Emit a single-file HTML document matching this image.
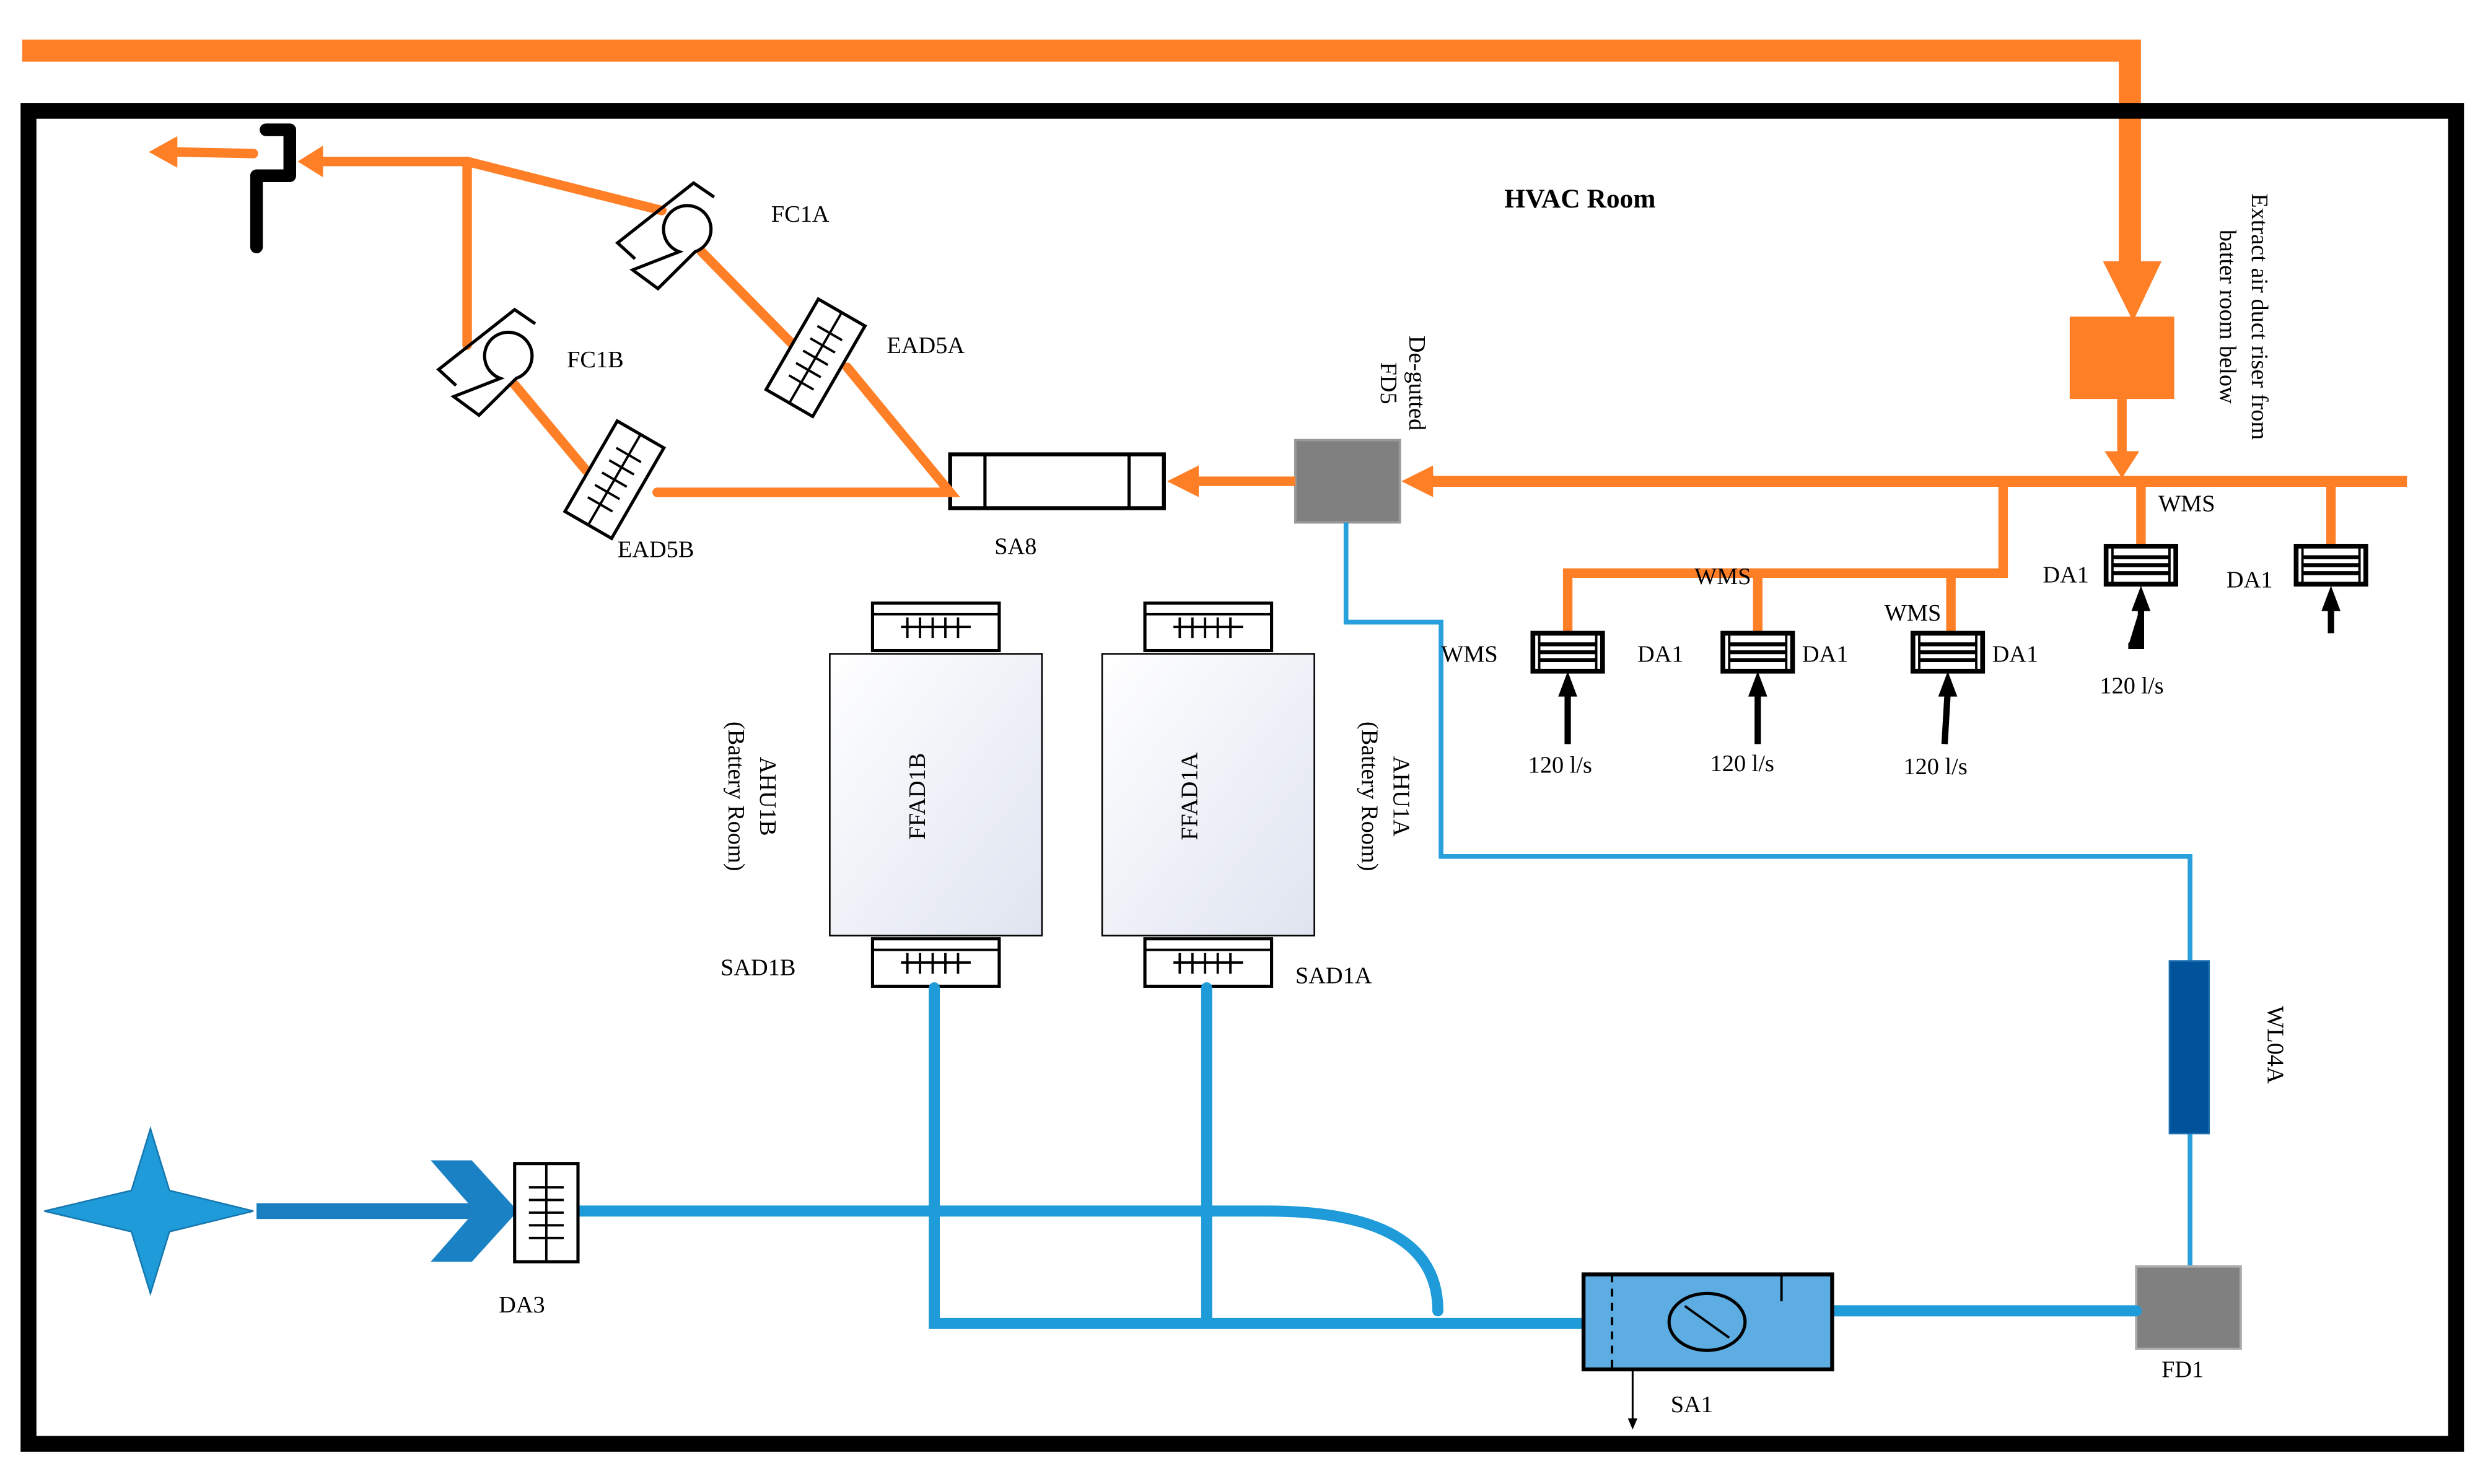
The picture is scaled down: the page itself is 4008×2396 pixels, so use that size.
<!DOCTYPE html>
<html><head><meta charset="utf-8"><style>html,body{margin:0;padding:0;background:#fff}svg{display:block}text{font-family:"Liberation Serif",serif;fill:#000}</style></head><body>
<svg width="4008" height="2396" viewBox="0 0 1568 937.4" preserveAspectRatio="none" xmlns="http://www.w3.org/2000/svg">
<defs>
<linearGradient id="g" x1="0" y1="0" x2="1" y2="1"><stop offset="0" stop-color="#fff"/><stop offset="1" stop-color="#dfe4f0"/></linearGradient>
<g id="da1"><rect x="-22" y="-12" width="44" height="24" fill="#fff" stroke="#000" stroke-width="3"/><line x1="-18" y1="-12" x2="-18" y2="12" stroke="#000" stroke-width="1.5"/><line x1="18" y1="-12" x2="18" y2="12" stroke="#000" stroke-width="1.5"/><path d="M-18 -5H18M-18 0H18M-18 5H18" stroke="#000" stroke-width="2.5"/></g>
<g id="grille"><rect x="-40" y="-15" width="80" height="30" fill="#fff" stroke="#000" stroke-width="2"/><line x1="-40" y1="-8" x2="40" y2="-8" stroke="#000" stroke-width="1.5"/><line x1="-22" y1="0" x2="22" y2="0" stroke="#000" stroke-width="1.5"/><path d="M-18 -6V7M-10 -6V7M-2 -6V7M6 -6V7M14 -6V7" stroke="#000" stroke-width="1.5"/></g>
<g id="ead"><rect x="-17" y="-33" width="34" height="66" fill="#fff" stroke="#000" stroke-width="2"/><line x1="0" y1="-33" x2="0" y2="33" stroke="#000" stroke-width="1.5"/><path d="M-9 -18H9M-9 -9H9M-9 0H9M-9 9H9M-9 18H9" stroke="#000" stroke-width="1.5"/></g>
<g id="fan" fill="none" stroke="#000" stroke-width="2"><path d="M18 -21.5L5 -30.4L-43 7.4L-32 17.5"/><path d="M-4 13A15 15 0 1 1 6 13L-17.5 36.3L-33.5 24.5L-4 13Z" fill="#fff"/></g>
</defs>
<path d="M14 32H1345V170" fill="none" stroke="#ff7f27" stroke-width="14"/>
<polygon points="1328,165 1365,165 1347,203" fill="#ff7f27"/>
<rect x="18" y="70" width="1533" height="842" fill="none" stroke="#000" stroke-width="10"/>
<rect x="1307" y="200" width="66" height="52" fill="#ff7f27"/>
<line x1="1340" y1="252" x2="1340" y2="288" stroke="#ff7f27" stroke-width="6"/>
<polygon points="1329,285 1351,285 1340,302" fill="#ff7f27"/>
<line x1="1520" y1="304" x2="900" y2="304" stroke="#ff7f27" stroke-width="7"/>
<polygon points="885,304 905,294 905,314" fill="#ff7f27"/>
<rect x="818" y="278" width="66" height="52" fill="#808080" stroke="#999" stroke-width="1.5"/>
<line x1="818" y1="304" x2="752" y2="304" stroke="#ff7f27" stroke-width="6"/>
<polygon points="737,304 757,294 757,314" fill="#ff7f27"/>
<rect x="600" y="287" width="135" height="34" fill="#fff" stroke="#000" stroke-width="2.5"/>
<line x1="622" y1="287" x2="622" y2="321" stroke="#000" stroke-width="2"/><line x1="713" y1="287" x2="713" y2="321" stroke="#000" stroke-width="2"/>
<g stroke="#ff7f27" stroke-width="6" fill="none" stroke-linecap="round">
<path d="M415 311H600L535 232"/><path d="M500 217L443 159"/><path d="M418 133L295 102H196"/><path d="M295 102V218"/><path d="M325 243L370 297"/><path d="M160 97L112 96"/>
<path d="M1265 304V362H990V400"/><path d="M1110 362V400"/><path d="M1232 362V400"/><path d="M1352 304V345"/><path d="M1472 304V345"/>
</g>
<polygon points="188,102 204,92 204,112" fill="#ff7f27"/>
<polygon points="94,96 112,86 112,106" fill="#ff7f27"/>
<path d="M162 156V111H183V82H168" fill="none" stroke="#000" stroke-width="8" stroke-linecap="round" stroke-linejoin="round"/>
<use href="#fan" transform="translate(433,146)"/>
<use href="#fan" transform="translate(320,226)"/>
<use href="#ead" transform="translate(515,226) rotate(30)"/>
<use href="#ead" transform="translate(388,303) rotate(30)"/>
<use href="#da1" transform="translate(990,412)"/><use href="#da1" transform="translate(1110,412)"/><use href="#da1" transform="translate(1230,412)"/><use href="#da1" transform="translate(1352,357)"/><use href="#da1" transform="translate(1472,357)"/>
<g stroke="#000" stroke-width="4"><path d="M990 470V436"/><path d="M1110 470V436"/><path d="M1228 470L1230 436"/><path d="M1344 408H1352V382"/><path d="M1472 400V382"/></g>
<g fill="#000"><polygon points="984,440 996,440 990,424"/><polygon points="1104,440 1116,440 1110,424"/><polygon points="1224,440 1236,440 1230,424"/><polygon points="1346,386 1358,386 1352,370"/><polygon points="1466,386 1478,386 1472,370"/></g>
<path d="M850 330V393H910V541H1383V607M1383 716V800" fill="none" stroke="#29a0dc" stroke-width="3"/>
<rect x="1370" y="607" width="25" height="109" fill="#00529b" stroke="#1a6fb0"/>
<rect x="1349" y="800" width="66" height="52" fill="#808080" stroke="#aaa" stroke-width="1.5"/>
<rect x="524" y="413" width="134" height="178" fill="url(#g)" stroke="#000" stroke-width="1"/>
<rect x="696" y="413" width="134" height="178" fill="url(#g)" stroke="#000" stroke-width="1"/>
<use href="#grille" transform="translate(591,396)"/><use href="#grille" transform="translate(763,396)"/>
<use href="#grille" transform="translate(591,608)"/><use href="#grille" transform="translate(763,608)"/>
<g stroke="#1e9bd8" stroke-width="7" fill="none" stroke-linecap="round"><path d="M590 624V836H1000"/><path d="M762 624V836"/><path d="M365 765H800Q908 765 908 828"/><path d="M1157 828H1349"/></g>
<path d="M162 765H300" stroke="#1a7fc0" stroke-width="10"/>
<polygon points="272,733 298,733 327,765 298,797 272,797 300,765" fill="#1a82c4"/>
<polygon points="95,713 107,752 160,765 107,778 95,817 83,778 28,765 83,752" fill="#1e9bd8" stroke="#1778b0"/>
<rect x="325" y="735" width="40" height="62" fill="#fff" stroke="#000" stroke-width="2"/>
<path d="M345 735V797M334 750H356M334 758H356M334 766H356M334 774H356M334 782H356" stroke="#000" stroke-width="1.5"/>
<rect x="1000" y="805" width="157" height="60" fill="#5dade2" stroke="#000" stroke-width="2.5"/>
<line x1="1018" y1="805" x2="1018" y2="865" stroke="#000" stroke-width="1.5" stroke-dasharray="5,4"/>
<line x1="1125" y1="805" x2="1125" y2="822" stroke="#000" stroke-width="1.5"/>
<ellipse cx="1078" cy="835" rx="24" ry="18" fill="none" stroke="#000" stroke-width="2"/>
<line x1="1064" y1="825" x2="1092" y2="845" stroke="#000" stroke-width="1.5"/>
<line x1="1031" y1="865" x2="1031" y2="900" stroke="#000" stroke-width="1.2"/><polygon points="1028,896 1034,896 1031,903" fill="#000"/>
<g font-size="15">
<text x="950" y="131" font-weight="bold" font-size="17">HVAC Room</text>
<text x="487" y="140">FC1A</text><text x="358" y="232">FC1B</text><text x="560" y="223">EAD5A</text><text x="390" y="352">EAD5B</text><text x="628" y="350">SA8</text>
<text x="1070" y="369">WMS</text><text x="1190" y="392">WMS</text><text x="910" y="418">WMS</text><text x="1363" y="323">WMS</text>
<text x="1034" y="418">DA1</text><text x="1138" y="418">DA1</text><text x="1258" y="418">DA1</text><text x="1290" y="368">DA1</text><text x="1406" y="371">DA1</text>
<text x="965" y="488">120 l/s</text><text x="1080" y="487">120 l/s</text><text x="1202" y="489">120 l/s</text><text x="1326" y="438">120 l/s</text>
<text x="455" y="616">SAD1B</text><text x="818" y="621">SAD1A</text><text x="315" y="829">DA3</text><text x="1055" y="892">SA1</text><text x="1365" y="870">FD1</text>
<text transform="translate(584,503) rotate(-90)" text-anchor="middle">FFAD1B</text>
<text transform="translate(756,503) rotate(-90)" text-anchor="middle">FFAD1A</text>
<text transform="translate(480,503) rotate(90)" text-anchor="middle">AHU1B</text><text transform="translate(460,503) rotate(90)" text-anchor="middle">(Battery Room)</text>
<text transform="translate(880,503) rotate(90)" text-anchor="middle">AHU1A</text><text transform="translate(860,503) rotate(90)" text-anchor="middle">(Battery Room)</text>
<text transform="translate(890,242) rotate(90)" text-anchor="middle">De-gutted</text><text transform="translate(872,242) rotate(90)" text-anchor="middle">FD5</text>
<text transform="translate(1422,200) rotate(90)" text-anchor="middle">Extract air duct riser from</text><text transform="translate(1402,200) rotate(90)" text-anchor="middle">batter room below</text>
<text transform="translate(1432,660) rotate(90)" text-anchor="middle">WL04A</text>
</g>
</svg>
</body></html>
